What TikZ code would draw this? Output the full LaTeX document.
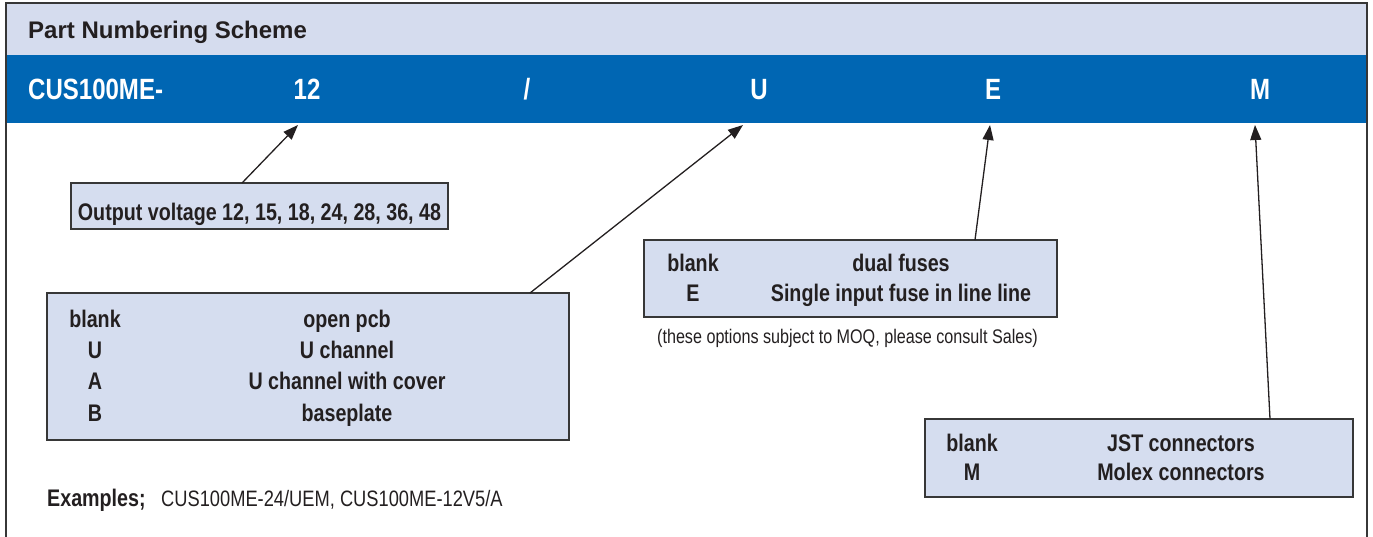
\documentclass[tikz,border=0pt]{standalone}
\usepackage{fontspec}
\setmainfont{Liberation Sans}
\newfontfamily\nar[FakeStretch=0.82]{Liberation Sans}
\usetikzlibrary{arrows.meta}
\definecolor{band}{RGB}{213,220,238}
\definecolor{bluebar}{RGB}{0,102,179}
\definecolor{boxfill}{RGB}{213,221,239}
\definecolor{ink}{RGB}{35,31,32}
\definecolor{edge}{RGB}{55,55,55}
\begin{document}
\begin{tikzpicture}[x=1pt,y=-1pt,
  optbox/.style={draw=edge,line width=1.3pt,fill=boxfill,anchor=north west,inner sep=0pt,outer sep=0pt},
  boxtxt/.style={anchor=base,inner sep=0pt,text=ink,font=\nar\bfseries\fontsize{24}{28}\selectfont},
  bartxt/.style={anchor=base,inner sep=0pt,text=white,font=\nar\bfseries\fontsize{29.3}{33}\selectfont},
  notetxt/.style={anchor=base,inner sep=0pt,text=ink,font=\nar\fontsize{19.7}{23}\selectfont},
  ptr/.style={draw=ink,line width=1.3pt,-{Triangle[length=15pt,width=11pt]}}]
\useasboundingbox (0,0) rectangle (1373,536);
% bands and frame
\fill[band] (6,3) rectangle (1367,55);
\fill[bluebar] (6,55) rectangle (1367,123);
\draw[edge,line width=1.2pt] (6,545) -- (6,3) -- (1367,3) -- (1367,545);
% title
\node[anchor=base west,inner sep=0pt,text=ink,font=\bfseries\fontsize{24}{28}\selectfont] (title) at (28,38) {Part Numbering Scheme};
% part number
\node[bartxt,anchor=base west] (pre) at (28,99) {CUS100ME-};
\node[bartxt] (v12) at (307,99) {12};
\node[bartxt] (sl) at (527,99) {/};
\node[bartxt] (vU) at (759,99) {U};
\node[bartxt] (vE) at (993,99) {E};
\node[bartxt] (vM) at (1260,99) {M};
\coordinate (t12) at (298,125);
\coordinate (tU) at (743,125);
\coordinate (tE) at (990,125);
\coordinate (tM) at (1255,125);
% boxes
\node[optbox,minimum width=377pt,minimum height=46pt] (b1) at (71,183) {};
\node[optbox,minimum width=522pt,minimum height=147pt] (b2) at (47,293) {};
\node[optbox,minimum width=413pt,minimum height=77pt] (b3) at (644,240) {};
\node[optbox,minimum width=428pt,minimum height=78pt] (b4) at (925,419) {};
% box 1
\node[boxtxt] (b1t) at (259.5,220) {Output voltage 12, 15, 18, 24, 28, 36, 48};
% box 2
\node[boxtxt] (b2a) at (95,327) {blank};
\node[boxtxt] (b2b) at (347,327) {open pcb};
\node[boxtxt] (b2c) at (95,358) {U};
\node[boxtxt] (b2d) at (347,358) {U channel};
\node[boxtxt] (b2e) at (95,389.5) {A};
\node[boxtxt] (b2f) at (347,389.5) {U channel with cover};
\node[boxtxt] (b2g) at (95,421) {B};
\node[boxtxt] (b2h) at (347,421) {baseplate};
% box 3
\node[boxtxt] (b3a) at (693,271) {blank};
\node[boxtxt] (b3b) at (901,271) {dual fuses};
\node[boxtxt] (b3c) at (693,301) {E};
\node[boxtxt] (b3d) at (901,301) {Single input fuse in line line};
\node[notetxt] (note) at (847.5,343) {(these options subject to MOQ, please consult Sales)};
% box 4
\node[boxtxt] (b4a) at (972,451) {blank};
\node[boxtxt] (b4b) at (1181,451) {JST connectors};
\node[boxtxt] (b4c) at (972,480) {M};
\node[boxtxt] (b4d) at (1181,480) {Molex connectors};
% examples
\node[anchor=base west,inner sep=0pt,text=ink,font=\nar\bfseries\fontsize{24}{28}\selectfont] (ex) at (47,506) {Examples;};
\node[anchor=base west,inner sep=0pt,text=ink,font=\nar\fontsize{22.3}{26}\selectfont] (exv) at (161,506) {CUS100ME-24/UEM, CUS100ME-12V5/A};
% pointers
\draw[ptr] ([xshift=171pt]b1.north west) -- (t12);
\draw[ptr] ([xshift=483pt]b2.north west) -- (tU);
\draw[ptr] ([xshift=331pt]b3.north west) -- (tE);
\draw[ptr] ([xshift=345pt]b4.north west) -- (tM);
\end{tikzpicture}
\end{document}
